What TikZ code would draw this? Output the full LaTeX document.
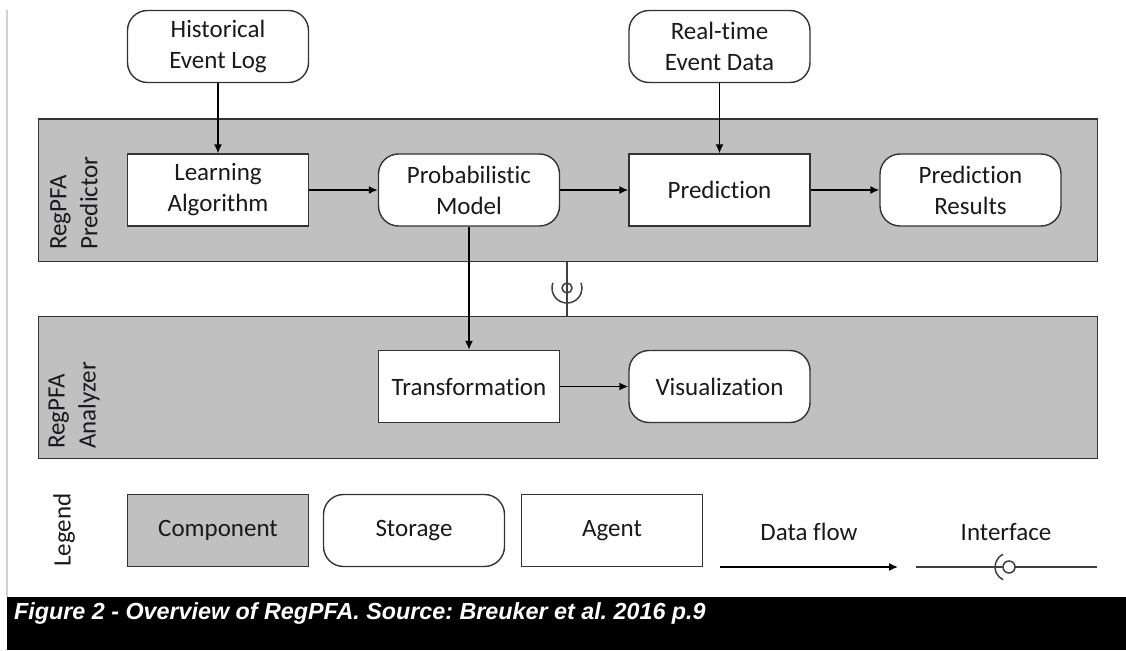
\documentclass[tikz,border=0pt]{standalone}
\usepackage{fontspec}
\setmainfont{Carlito}[Ligatures=NoCommon]
\newfontfamily\capfont{Liberation Sans}
\usetikzlibrary{arrows.meta}
\definecolor{compgray}{RGB}{192,192,192}
\definecolor{txt}{RGB}{25,25,30}
\begin{document}
\frenchspacing
\begin{tikzpicture}[x=1pt,y=-1pt,
  lbl/.style={font=\fontsize{25}{31}\selectfont, text=txt},
  comp/.style={draw=black!80, line width=1.4pt, fill=compgray},
  agent/.style={lbl, draw=black!80, line width=1.4pt, fill=white, minimum width=181pt, minimum height=72pt, inner sep=0pt, align=center},
  store/.style={agent, rounded corners=20pt},
  legcomp/.style={agent, fill=compgray},
  flow/.style={line width=1.5pt, draw=black, -{Latex[length=9pt,width=8pt]}},
  iface/.style={line width=1.5pt, draw=black!75},
  sidelbl/.style={lbl, rotate=90, anchor=west, align=left, inner sep=0pt},
]
\useasboundingbox (0,0) rectangle (1126,650);
\fill[white] (0,0) rectangle (1126,650);
% left border line
\draw[draw=black!18, line width=2pt] (7,10) -- (7,597);

% component boxes
\node[comp, minimum width=1059.5pt, minimum height=142.5pt, anchor=north west, inner sep=0pt] (pbox) at (37.5,118.5) {};
\node[comp, minimum width=1059.5pt, minimum height=142pt, anchor=north west, inner sep=0pt] (abox) at (37.5,316) {};
\node[sidelbl] (plbl) at (74,250) {RegPFA\\Predictor};
\node[sidelbl] (albl) at (74,449) {RegPFA\\Analyzer};

% nodes
\node[store] (hist) at (218,46.5) {Historical\\Event Log};
\node[store] (rt) at (719.5,46.5) {Real-time\\Event Data};
\node[agent] (learn) at (218,190) {Learning\\Algorithm};
\node[store] (prob) at (469,190) {Probabilistic\\Model};
\node[agent] (pred) at (719.5,190) {Prediction};
\node[store] (res) at (970.5,190) {Prediction\\Results};
\node[agent] (trans) at (469,386.5) {Transformation};
\node[store] (vis) at (719.5,386.5) {Visualization};

% flows
\draw[flow] (hist) -- (learn);
\draw[flow] (rt) -- (pred);
\draw[flow] (learn) -- (prob);
\draw[flow] (prob) -- (pred);
\draw[flow] (pred) -- (res);
\draw[flow] (prob) -- (trans);
\draw[flow] (trans) -- (vis);

% interface between components
\coordinate (ic) at (567,288);
\draw[iface] (ic |- pbox.south) -- ([yshift=-5pt]ic);
\draw[iface] ([yshift=5pt]ic) -- (ic |- abox.north);
\draw[iface] (ic) circle[radius=5pt];
\draw[iface] (ic) ++(160:15pt) arc[start angle=160, end angle=380, radius=15pt];

% legend
\node[sidelbl] (leglbl) at (64,567) {Legend};
\node[legcomp] (lcomp) at (218,530.5) {Component};
\node[store] (lstore) at (414,530.5) {\strut Storage};
\node[agent] (lagent) at (612,530.5) {\strut Agent};
\node[lbl] (ldf) at (809,532) {Data flow};
\node[lbl] (lif) at (1006,532) {Interface};
\coordinate (df1) at (720,567);
\coordinate (df2) at (898,567);
\draw[flow] (df1) -- (df2);
\coordinate (if1) at (916,567);
\coordinate (lic) at (1009,567);
\coordinate (if2) at (1097,567);
\draw[iface] (if1) -- ([xshift=-6pt]lic);
\draw[iface] ([xshift=6pt]lic) -- (if2);
\draw[iface] (lic) circle[radius=6pt];
\draw[iface] (lic) ++(115:14pt) arc[start angle=115, end angle=245, radius=14pt];

% caption bar
\fill[black] (7,597) rectangle (1126,650);
\node[anchor=base west, inner sep=0pt, text=white, font=\capfont\bfseries\itshape\fontsize{23.3}{26}\selectfont] (cap) at (14,619) {Figure 2 - Overview of RegPFA. Source: Breuker et al. 2016 p.9};
\end{tikzpicture}
\end{document}
